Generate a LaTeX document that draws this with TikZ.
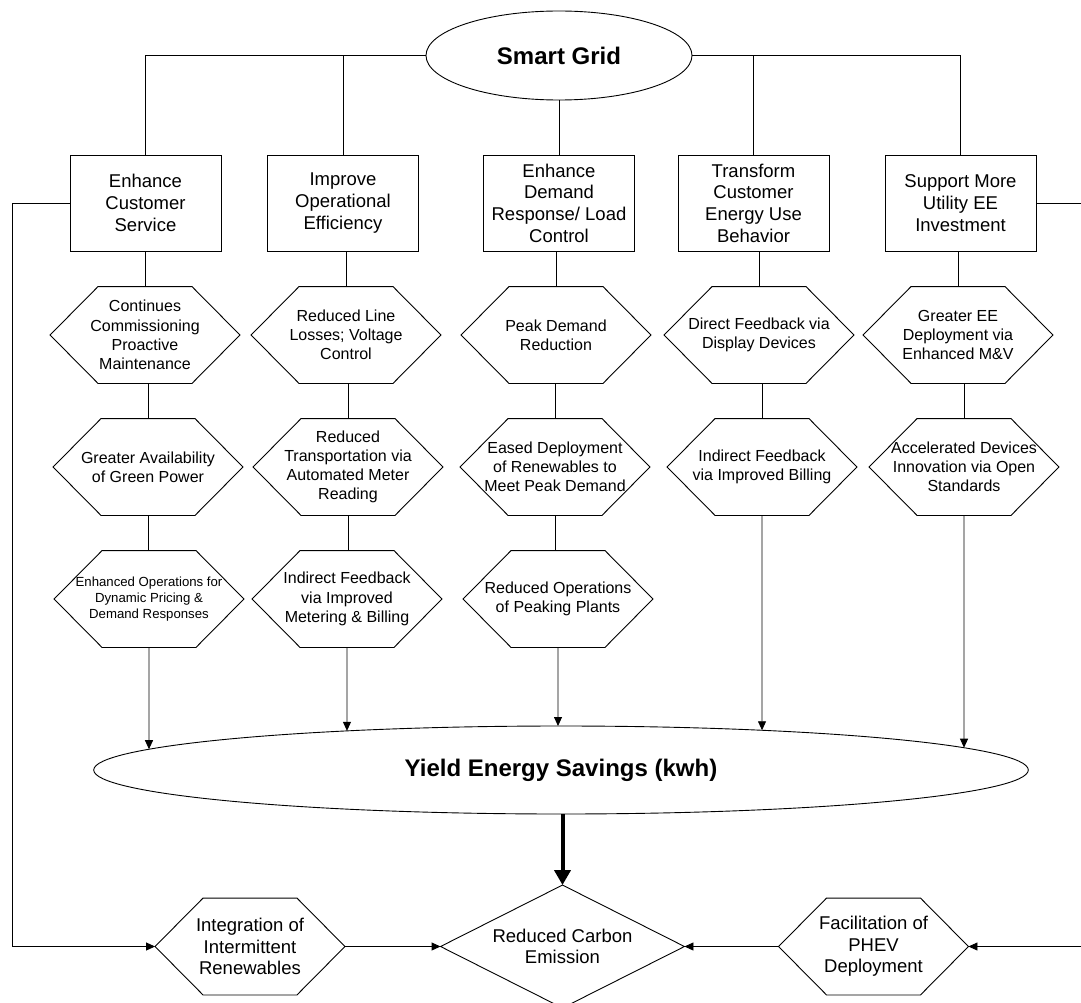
\documentclass[tikz,border=0pt]{standalone}
\usepackage{fontspec}
\setmainfont{Liberation Sans}
\usetikzlibrary{shapes.geometric, arrows.meta, intersections}
\newcommand\fntBox{\fontsize{18.5pt}{21.7pt}\selectfont}
\newcommand\fntHex{\fontsize{16pt}{19.2pt}\selectfont}
\newcommand\fntSmall{\fontsize{13.2pt}{16.3pt}\selectfont}
\newcommand\fntTitle{\fontsize{24pt}{28pt}\selectfont\bfseries}
\tikzset{
  ln/.style={draw=black, line width=0.9pt},
  arr/.style={ln, -{Triangle[length=9pt,width=8pt]}},
  bigarr/.style={draw=black, line width=4pt, -{Triangle[length=15pt,width=16pt]}},
  cbox/.style={draw=black, line width=0.9pt, minimum width=151pt, minimum height=96pt, inner sep=0pt, align=center, font=\fntBox},
  hexn/.style={minimum width=189pt, minimum height=96pt, inner sep=0pt, align=center, font=\fntHex},
  dnode/.style={minimum width=243pt, minimum height=122pt, inner sep=0pt, align=center, font=\fntBox},
  oval/.style={ellipse, draw=black, line width=0.9pt, inner sep=0pt, font=\fntTitle}
}
\begin{document}
\begin{tikzpicture}[x=1pt, y=-1pt, line width=0.9pt]
\useasboundingbox (0,0) rectangle (1081,1003);
\fill[white] (0,0) rectangle (1081,1003);
% top
\node[oval, minimum width=266pt, minimum height=89pt] (sg) at (559,55.5) {Smart Grid};
\node[cbox] (b1) at (145.5,203) {Enhance\\Customer\\Service};
\node[cbox] (b2) at (343,203) {Improve\\Operational\\Efficiency};
\node[cbox] (b3) at (559,203) {Enhance\\Demand\\Response/ Load\\Control};
\node[cbox] (b4) at (753.5,203) {Transform\\Customer\\Energy Use\\Behavior};
\node[cbox] (b5) at (960.5,203) {Support More\\Utility EE\\Investment};
% hexagons row 1
\node[hexn] (h1a) at (145,335) {Continues\\Commissioning\\Proactive\\Maintenance};
\node[hexn] (h2a) at (346,335) {Reduced Line\\Losses; Voltage\\Control};
\node[hexn] (h3a) at (556,335) {Peak Demand\\Reduction};
\node[hexn] (h4a) at (759,335) {Direct Feedback via\\Display Devices};
\node[hexn] (h5a) at (958,335) {Greater EE\\Deployment via\\Enhanced M\&V};
% row 2
\node[hexn] (h1b) at (148,467) {Greater Availability\\of Green Power};
\node[hexn] (h2b) at (348,467) {Reduced\\Transportation via\\Automated Meter\\Reading};
\node[hexn] (h3b) at (555,467) {Eased Deployment\\of Renewables to\\Meet Peak Demand};
\node[hexn] (h4b) at (762,467) {Indirect Feedback\\via Improved Billing};
\node[hexn] (h5b) at (964,467) {Accelerated Devices\\Innovation via Open\\Standards};
% row 3
\node[hexn, font=\fntSmall] (h1c) at (149,599) {Enhanced Operations for\\Dynamic Pricing \&\\Demand Responses};
\node[hexn] (h2c) at (347,599) {Indirect Feedback\\via Improved\\Metering \& Billing};
\node[hexn] (h3c) at (558,599) {Reduced Operations\\of Peaking Plants};
% yield
\node[oval, name path=yp, minimum width=934.6pt, minimum height=88pt] (yield) at (561,770) {Yield Energy Savings (kwh)};
% bottom
\node[dnode] (dia) at (562.5,946.5) {Reduced Carbon\\Emission};
\node[hexn, font=\fntBox] (integ) at (250,946.5) {Integration of\\Intermittent\\Renewables};
\node[hexn, font=\fntBox] (fac) at (873.5,946.5) {Facilitation of\\PHEV\\Deployment};
% hexagon outlines
\foreach \n in {h1a,h2a,h3a,h4a,h5a,h1b,h2b,h3b,h4b,h5b,h1c,h2c,h3c,integ,fac}
  \draw[ln] ([xshift=48pt]\n.north west) -- ([xshift=-48pt]\n.north east) -- (\n.east)
    -- ([xshift=-48pt]\n.south east) -- ([xshift=48pt]\n.south west) -- (\n.west) -- cycle;
\draw[ln] (dia.north) -- (dia.east) -- (dia.south) -- (dia.west) -- cycle;
% smart grid tree
\draw[ln] (sg.west) -| (b1.north);
\draw[ln] (sg.west) -| (b2.north);
\draw[ln] (sg.south) -- (b3.north);
\draw[ln] (sg.east) -| (b4.north);
\draw[ln] (sg.east) -| (b5.north);
% box to row 1
\foreach \b/\h in {b1/h1a,b2/h2a,b3/h3a,b4/h4a,b5/h5a}
  \draw[ln] (\h.north |- \b.south) -- (\h.north);
% row 1 to row 2
\foreach \u/\l in {h1a/h1b,h2a/h2b,h3a/h3b,h4a/h4b,h5a/h5b}
  \draw[ln] (\l.north |- \u.south) -- (\l.north);
% row 2 to row 3
\foreach \u/\l in {h1b/h1c,h2b/h2c,h3b/h3c}
  \draw[ln] (\u.south |- \l.north) -- (\u.south);
% arrows into yield ellipse
\foreach \n in {h1c,h2c,h3c,h4b,h5b} {
  \path[name path=vv] (\n.south) -- ++(0,320);
  \draw[arr, name intersections={of=vv and yp}] (\n.south) -- (intersection-1);
}
% thick arrow
\draw[bigarr] (dia.north |- yield.south) -- (dia.north);
% bottom arrows
\coordinate (lft) at (12,203);
\draw[arr] (b1.west) -- (lft) |- (integ.west);
\draw[arr] (integ.east) -- (dia.west);
\draw[arr] (fac.west) -- (dia.east);
\coordinate (rt1) at (1090,203);
\coordinate (rt2) at (1090,946.5);
\draw[ln] (b5.east) -- (rt1);
\draw[arr] (rt2) -- (fac.east);
\end{tikzpicture}
\end{document}
